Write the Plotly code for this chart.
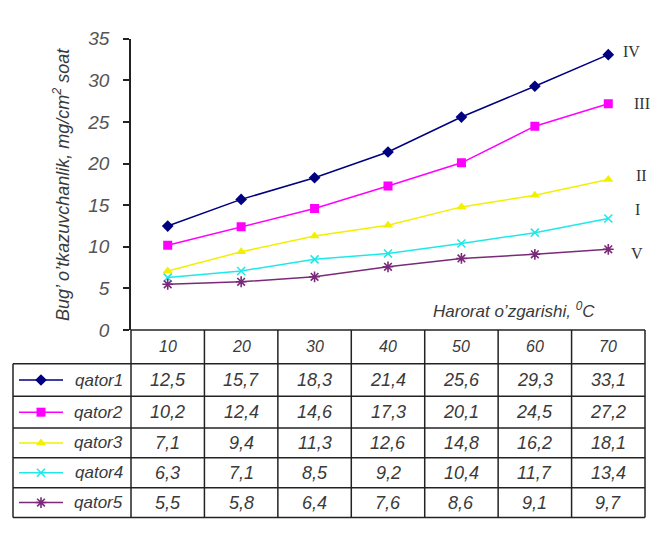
import plotly.graph_objects as go

# Temperature steps (°C) and vapour permeability series
temps = [10, 20, 30, 40, 50, 60, 70]
series_names = ["qator1", "qator2", "qator3", "qator4", "qator5"]
qator1 = [12.5, 15.7, 18.3, 21.4, 25.6, 29.3, 33.1]
qator2 = [10.2, 12.4, 14.6, 17.3, 20.1, 24.5, 27.2]
qator3 = [7.1, 9.4, 11.3, 12.6, 14.8, 16.2, 18.1]
qator4 = [6.3, 7.1, 8.5, 9.2, 10.4, 11.7, 13.4]
qator5 = [5.5, 5.8, 6.4, 7.6, 8.6, 9.1, 9.7]
series_values = [qator1, qator2, qator3, qator4, qator5]
roman_labels = ["IV", "III", "II", "I", "V"]

W, H = 653, 539
PLOT_L, PLOT_R, PLOT_T, PLOT_B = 131, 645, 30, 333
TABLE_LEFT = 13
ROW_EDGES = [333, 368, 402, 435, 466, 497, 528]

colors = ["#000080", "#FF00FF", "#F2F000", "#20E8E8", "#7A2A78"]
symbols = ["diamond", "square", "triangle-up", "x-thin-open", "asterisk-open"]
msizes = [9, 9, 9, 8, 9]

FONT = "Liberation Sans, Arial, sans-serif"
TXT = "#3a3a3a"

fig = go.Figure()

for name, vals, c, s, ms in zip(series_names, series_values, colors, symbols, msizes):
    marker = dict(symbol=s, size=ms, color=c)
    if s.endswith("open"):
        marker["line"] = dict(color=c, width=1.6)
    fig.add_trace(go.Scatter(
        x=temps, y=vals, mode="lines+markers", name=name,
        line=dict(color=c, width=1.5), marker=marker,
        xaxis="x", yaxis="y", showlegend=False, hoverinfo="x+y"))

# Legend keys inside the table's first column (pixel axes)
key_x0, key_x1 = 19, 63
for i, (c, s, ms) in enumerate(zip(colors, symbols, msizes)):
    yc = (ROW_EDGES[i + 1] + ROW_EDGES[i + 2]) / 2
    marker = dict(symbol=s, size=ms, color=c)
    if s.endswith("open"):
        marker["line"] = dict(color=c, width=1.6)
    fig.add_trace(go.Scatter(
        x=[key_x0, (key_x0 + key_x1) / 2, key_x1], y=[yc, yc, yc],
        mode="lines", line=dict(color=c, width=1.5),
        xaxis="x2", yaxis="y2", showlegend=False, hoverinfo="skip"))
    fig.add_trace(go.Scatter(
        x=[(key_x0 + key_x1) / 2], y=[yc], mode="markers", marker=marker,
        xaxis="x2", yaxis="y2", showlegend=False, hoverinfo="skip"))

shapes = []
line_style = dict(color="#222222", width=1.5)
# horizontal rules of the data table
shapes.append(dict(type="line", xref="x2", yref="y2", x0=PLOT_L, x1=PLOT_R,
                   y0=ROW_EDGES[0], y1=ROW_EDGES[0], line=line_style))
for ye in ROW_EDGES[1:]:
    shapes.append(dict(type="line", xref="x2", yref="y2", x0=TABLE_LEFT, x1=PLOT_R,
                       y0=ye, y1=ye, line=line_style))
# vertical rules: column boundaries between temperature steps
col_w = (PLOT_R - PLOT_L) / len(temps)
for k in range(len(temps) + 1):
    xe = PLOT_L + k * col_w
    shapes.append(dict(type="line", xref="x2", yref="y2", x0=xe, x1=xe,
                       y0=ROW_EDGES[0], y1=ROW_EDGES[-1], line=line_style))
shapes.append(dict(type="line", xref="x2", yref="y2", x0=TABLE_LEFT, x1=TABLE_LEFT,
                   y0=ROW_EDGES[1], y1=ROW_EDGES[-1], line=line_style))

annotations = []
# header row: temperature values
for t in temps:
    annotations.append(dict(
        x=t, y=(ROW_EDGES[0] + ROW_EDGES[1]) / 2, xref="x", yref="y2",
        text=str(t), showarrow=False,
        font=dict(family=FONT, size=16, color=TXT, style="italic")))
# data rows
for i, (name, vals) in enumerate(zip(series_names, series_values)):
    yc = (ROW_EDGES[i + 1] + ROW_EDGES[i + 2]) / 2
    annotations.append(dict(
        x=PLOT_L - 6, y=yc, xref="x2", yref="y2", xanchor="right",
        text=name, showarrow=False,
        font=dict(family=FONT, size=17, color=TXT, style="italic")))
    for t, v in zip(temps, vals):
        annotations.append(dict(
            x=t, y=yc, xref="x", yref="y2",
            text=f"{v:.1f}".replace(".", ","), showarrow=False,
            font=dict(family=FONT, size=18, color=TXT, style="italic")))

# Roman numeral labels beside the line ends
roman_pos = [(631, 43), (642, 97), (641, 172), (637, 208), (637, 253)]
for lab, (px, py) in zip(roman_labels, roman_pos):
    annotations.append(dict(
        x=px, y=py, xref="x2", yref="y2", text=lab, showarrow=False,
        font=dict(family="Liberation Serif, Times New Roman, serif", size=16, color="#333333")))

annotations.append(dict(
    x=514, y=312, xref="x2", yref="y2",
    text="Harorat o’zgarishi, <sup>0</sup>C", showarrow=False,
    font=dict(family=FONT, size=17, color=TXT, style="italic")))

annotations.append(dict(
    x=62, y=182, xref="x2", yref="y2", textangle=-90,
    text="Bug’ o’tkazuvchanlik, mg/cm<sup>2</sup> soat", showarrow=False,
    font=dict(family=FONT, size=18, color=TXT, style="italic")))

fig.update_layout(
    width=W, height=H,
    margin=dict(l=0, r=0, t=0, b=0),
    paper_bgcolor="white", plot_bgcolor="rgba(0,0,0,0)",
    showlegend=False,
    xaxis=dict(domain=[PLOT_L / W, PLOT_R / W], range=[5, 75],
               showticklabels=False, ticks="", showgrid=False, zeroline=False,
               showline=False),
    yaxis=dict(domain=[(H - PLOT_B) / H, (H - PLOT_T) / H], range=[0, 35],
               dtick=5, ticks="outside", ticklen=6, tickwidth=1.5, tickcolor="#222",
               showline=True, linecolor="#222", linewidth=1.5,
               showgrid=False, zeroline=False, ticklabelstandoff=10,
               tickfont=dict(family=FONT, size=19, color="#555", style="italic")),
    xaxis2=dict(domain=[0, 1], range=[0, W], visible=False, anchor="y2"),
    yaxis2=dict(domain=[0, 1], range=[H, 0], visible=False, anchor="x2"),
    shapes=shapes,
    annotations=annotations,
)

fig.write_html("out.html")
